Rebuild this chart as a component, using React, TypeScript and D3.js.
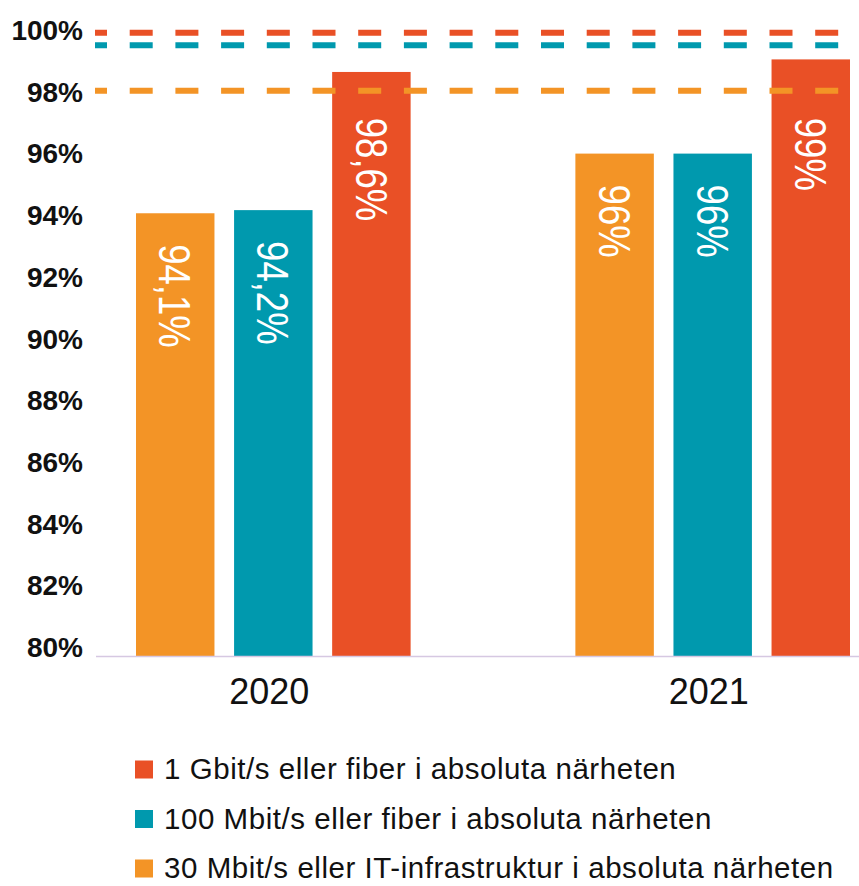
import * as d3 from 'd3';
import { useEffect, useRef } from 'react';

const years = ['2020', '2021'];
const seriesKeys = ['30', '100', '1000'];
const seriesLabels = [
    '30 Mbit/s eller IT-infrastruktur i absoluta närheten',
    '100 Mbit/s eller fiber i absoluta närheten',
    '1 Gbit/s eller fiber i absoluta närheten',
];
const seriesColors = ['#f39426', '#0099ae', '#e95026'];
const values30 = [94.1, 96];
const values100 = [94.2, 96];
const values1000 = [98.6, 99];
// goal lines, same order as seriesKeys
const targets = [98, 99.45, 99.85];
const yTicks = [80, 82, 84, 86, 88, 90, 92, 94, 96, 98, 100];
const legendOrder = [2, 1, 0];

export default function App() {
    const ref = useRef<SVGSVGElement | null>(null);

    useEffect(() => {
        const svg = d3.select(ref.current);
        svg.selectAll('*').remove();

        const width = 859;
        const height = 886;
        const allValues = [values30, values100, values1000];

        const x0 = d3.scaleBand().domain(years).range([136, 850]).paddingInner(0.375).paddingOuter(0);
        const x1 = d3.scaleBand().domain(seriesKeys).range([0, x0.bandwidth()]).paddingInner(0.2).paddingOuter(0);
        const y = d3.scaleLinear().domain([80, 100]).range([656, 28]);
        // tick labels sit on a slightly different spacing in the original
        const yLabel = d3.scaleLinear().domain([80, 100]).range([657, 40]);

        svg.attr('width', width).attr('height', height);

        svg.append('g')
            .selectAll('text')
            .data(yTicks)
            .enter()
            .append('text')
            .attr('x', 83)
            .attr('y', d => yLabel(d))
            .attr('text-anchor', 'end')
            .attr('font-family', 'Liberation Sans, Arial, sans-serif')
            .attr('font-weight', 'bold')
            .attr('font-size', 28)
            .attr('fill', '#111')
            .text(d => `${d}%`);

        const bars = years.flatMap((year, i) =>
            seriesKeys.map((key, s) => ({ year, key, s, value: allValues[s][i] }))
        );

        const g = svg.append('g');
        g.selectAll('rect')
            .data(bars)
            .enter()
            .append('rect')
            .attr('x', d => x0(d.year)! + x1(d.key)!)
            .attr('y', d => y(d.value))
            .attr('width', x1.bandwidth())
            .attr('height', d => y(80) - y(d.value))
            .attr('fill', d => seriesColors[d.s]);

        g.selectAll('text')
            .data(bars)
            .enter()
            .append('text')
            .attr('transform', d => {
                const cx = x0(d.year)! + x1(d.key)! + x1.bandwidth() / 2;
                const top = Math.max(y(d.value) + 31, y(targets[0]) + 27);
                return `translate(${cx},${top}) rotate(90) scale(0.83,1)`;
            })
            .attr('dy', '0.36em')
            .attr('text-anchor', 'start')
            .attr('font-family', 'Liberation Sans, Arial, sans-serif')
            .attr('font-size', 44)
            .attr('fill', '#fff')
            .text(d => `${String(d.value).replace('.', ',')}%`);

        svg.append('line')
            .attr('x1', 96)
            .attr('x2', width)
            .attr('y1', y(80) + 0.5)
            .attr('y2', y(80) + 0.5)
            .attr('stroke', '#d6c8e2')
            .attr('stroke-width', 1.5);

        svg.append('g')
            .selectAll('line')
            .data(targets)
            .enter()
            .append('line')
            .attr('x1', 95)
            .attr('x2', width)
            .attr('y1', d => y(d))
            .attr('y2', d => y(d))
            .attr('stroke', (d, i) => seriesColors[i])
            .attr('stroke-width', 6)
            .attr('stroke-dasharray', '23 22.7')
            .attr('stroke-dashoffset', 11);

        svg.append('g')
            .selectAll('text')
            .data(years)
            .enter()
            .append('text')
            .attr('x', d => x0(d)! + x0.bandwidth() / 2 - 4)
            .attr('y', 704)
            .attr('text-anchor', 'middle')
            .attr('font-family', 'Liberation Sans, Arial, sans-serif')
            .attr('font-size', 36)
            .attr('fill', '#111')
            .text(d => d);

        const legend = svg.append('g')
            .selectAll('g')
            .data(legendOrder)
            .enter()
            .append('g')
            .attr('transform', (d, i) => `translate(135,${769.5 + i * 49.5})`);

        legend.append('rect')
            .attr('x', 0)
            .attr('y', -9)
            .attr('width', 18)
            .attr('height', 18)
            .attr('fill', d => seriesColors[d]);

        legend.append('text')
            .attr('x', 29)
            .attr('y', 9.5)
            .attr('font-family', 'Liberation Sans, Arial, sans-serif')
            .attr('font-size', 29.5)
            .attr('letter-spacing', 0.55)
            .attr('fill', '#111')
            .text(d => seriesLabels[d]);
    }, []);

    return (
        <div style={{ position: 'absolute', left: 0, top: 0 }}>
            <svg ref={ref} style={{ display: 'block' }}></svg>
        </div>
    );
}
